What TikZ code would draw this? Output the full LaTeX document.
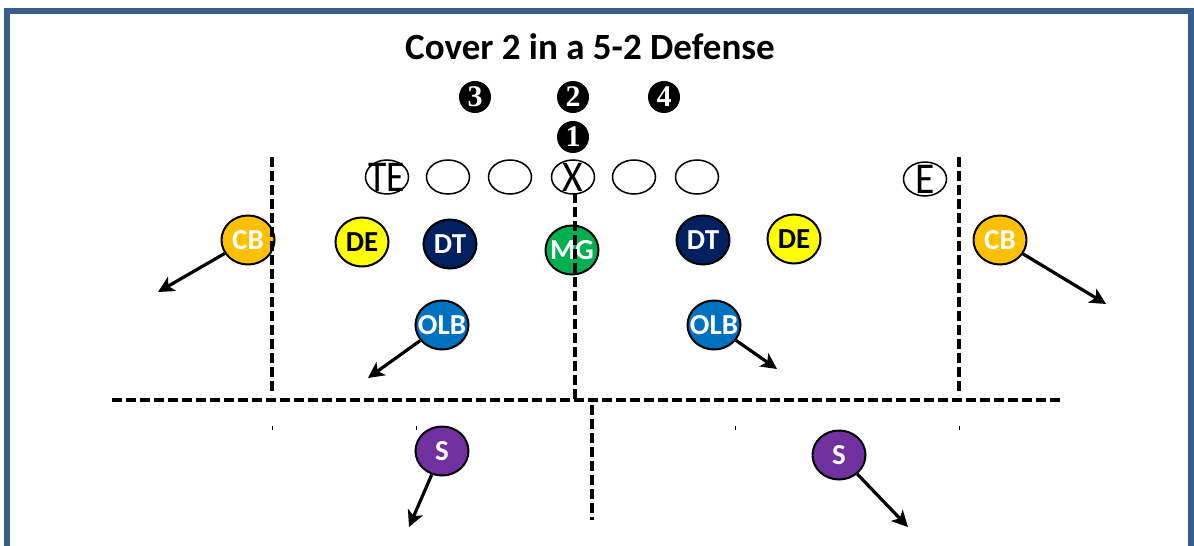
\documentclass[tikz,border=0pt]{standalone}
\usepackage{fontspec}
\setmainfont{Carlito}
\newfontfamily\numfont{Liberation Serif}
\usetikzlibrary{shapes.geometric,arrows.meta}
\definecolor{framecol}{HTML}{385D8A}
\definecolor{cbcol}{HTML}{FFC000}
\definecolor{decol}{HTML}{FFFF00}
\definecolor{dtcol}{HTML}{002060}
\definecolor{mgcol}{HTML}{00B050}
\definecolor{olbcol}{HTML}{0070C0}
\definecolor{scol}{HTML}{7030A0}
\begin{document}
\begin{tikzpicture}[x=0.5pt,y=-0.5pt,
  off/.style={draw=black,line width=0.75pt,ellipse,minimum width=21.5pt,minimum height=17pt,inner sep=0pt},
  offtxt/.style={inner sep=0pt,font=\fontsize{22}{22}\selectfont},
  def/.style={draw=black,line width=1pt,ellipse,minimum width=26.5pt,minimum height=24.5pt,inner sep=0pt},
  deftxt/.style={inner sep=0pt,text=white,font=\bfseries\fontsize{14.5}{14.5}\selectfont},
  num/.style={circle,fill=black,minimum size=16pt,inner sep=0pt,text=white,font=\numfont\bfseries\fontsize{15}{15}\selectfont},
  yard/.style={line width=1.8pt,dash pattern=on 5pt off 2pt},
  tick/.style={line width=0.5pt},
  run/.style={line width=1.6pt,-{Stealth[length=8pt,width=8pt,inset=2pt]}},
]
\useasboundingbox (0,0) rectangle (1194,546);
\clip (0,0) rectangle (1194,546);
% frame
\draw[framecol,line width=3pt] (7,560) -- (7,10.5) -- (1191,10.5) -- (1191,560);
% title
\node[font=\bfseries\fontsize{18.5}{18.5}\selectfont,inner sep=0pt] (title) at (590,47) {Cover 2 in a 5-2 Defense};
% gap numbers
\node[num] (n3) at (475,97) {3};
\node[num] (n2) at (573,97) {2};
\node[num] (n4) at (664,97) {4};
\node[num] (n1) at (573,137) {1};
% offense
\node[off] (te) at (387,177) {};
\node[offtxt] (tet) at (te) {\scalebox{0.85}[1]{TE}};
\node[off] (lt) at (448,177) {};
\node[off] (lg) at (510,177) {};
\node[off] (c) at (573,177) {};
\node[offtxt] (ct) at (c) {\scalebox{0.9}[1]{X}};
\node[off] (rg) at (634,177) {};
\node[off] (rt) at (697,177) {};
\node[off] (e) at (925,179) {};
\node[offtxt] (et) at (e) {\scalebox{0.9}[1]{E}};
% defense
\node[def,fill=cbcol] (cbL) at (248,240) {};
\node[deftxt] (cbLt) at (cbL) {CB};
\node[def,fill=decol] (deL) at (362,242) {};
\node[deftxt,text=black] (deLt) at (deL) {DE};
\node[def,fill=dtcol] (dtL) at (450,244) {};
\node[deftxt] (dtLt) at (dtL) {DT};
\node[def,fill=mgcol] (mg) at (572,250) {};
\node[deftxt] (mgt) at (mg) {MG};
\node[def,fill=dtcol] (dtR) at (703,240) {};
\node[deftxt] (dtRt) at (dtR) {DT};
\node[def,fill=decol] (deR) at (794,239) {};
\node[deftxt,text=black] (deRt) at (deR) {DE};
\node[def,fill=cbcol] (cbR) at (1000,240) {};
\node[deftxt] (cbRt) at (cbR) {CB};
\node[def,fill=olbcol] (olbL) at (442,325) {};
\node[deftxt] (olbLt) at (olbL) {OLB};
\node[def,fill=olbcol] (olbR) at (714,325) {};
\node[deftxt] (olbRt) at (olbR) {OLB};
\node[def,fill=scol] (sL) at (442,451) {};
\node[deftxt] (sLt) at (sL) {S};
\node[def,fill=scol] (sR) at (839,455) {};
\node[deftxt] (sRt) at (sR) {S};
% zone lines
\draw[yard] (272,157) -- (272,395);
\draw[yard] (959,157) -- (959,395);
\draw[yard] (575,193) -- (575,400);
\draw[yard] (112,400) -- (1062,400);
\draw[yard] (592,405) -- (592,520);
\draw[tick] (272,426) -- (272,430);
\draw[tick] (416,426) -- (416,430);
\draw[tick] (735,426) -- (735,430);
\draw[tick] (959,426) -- (959,430);
% drops
\coordinate (cbLe) at (158,292);
\coordinate (cbRe) at (1106,304);
\coordinate (olbLe) at (368,378);
\coordinate (olbRe) at (777,369);
\coordinate (sLe) at (409,527);
\coordinate (sRe) at (908,527);
\draw[run] (cbL) -- (cbLe);
\draw[run] (cbR) -- (cbRe);
\draw[run] (olbL) -- (olbLe);
\draw[run] (olbR) -- (olbRe);
\draw[run] (sL) -- (sLe);
\draw[run] (sR) -- (sRe);
\end{tikzpicture}
\end{document}
